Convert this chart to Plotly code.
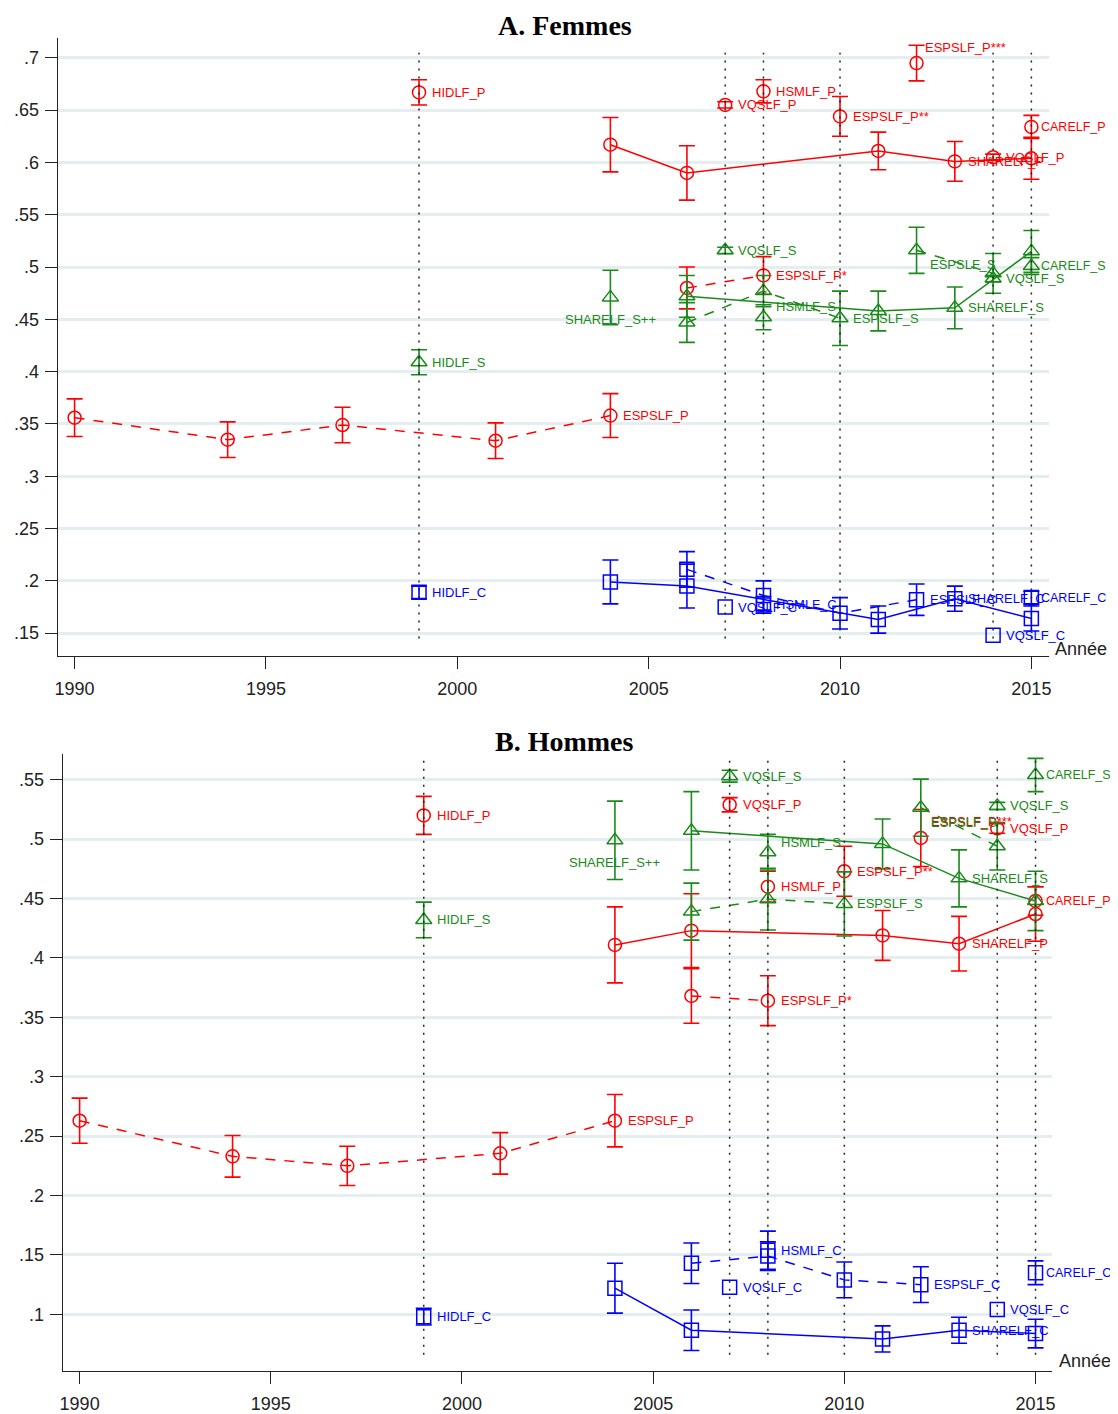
import plotly.graph_objects as go

# ---------------- DATA ----------------
DOT_YEARS = [1999, 2007, 2008, 2010, 2014, 2015]
X_TICKS = [1990, 1995, 2000, 2005, 2010, 2015]
F_Y_TICKS = [0.15, 0.2, 0.25, 0.3, 0.35, 0.4, 0.45, 0.5, 0.55, 0.6, 0.65, 0.7]
F_Y_TICKTEXT = [".15", ".2", ".25", ".3", ".35", ".4", ".45", ".5", ".55", ".6", ".65", ".7"]
H_Y_TICKS = [0.1, 0.15, 0.2, 0.25, 0.3, 0.35, 0.4, 0.45, 0.5, 0.55]
H_Y_TICKTEXT = [".1", ".15", ".2", ".25", ".3", ".35", ".4", ".45", ".5", ".55"]

ESP_X = [1990, 1994, 1997, 2001, 2004]
SHARE_X = [2004, 2006, 2011, 2013, 2015]
SHARE_S_X = [2006, 2011, 2013, 2015]
ESP1_X = [2006, 2008]
ESP1_S_X = [2006, 2008, 2010]
ESP1_C_X = [2006, 2008, 2010, 2012]
ESP2_S_X = [2012, 2014]

# --- A. Femmes ---
F_HIDLF_P = [0.667]; F_HIDLF_P_E = [0.012]
F_ESPSLF_P = [0.356, 0.335, 0.349, 0.334, 0.358]; F_ESPSLF_P_E = [0.018, 0.017, 0.017, 0.017, 0.021]
F_SHARELF_P = [0.617, 0.590, 0.611, 0.601, 0.604]; F_SHARELF_P_E = [0.026, 0.026, 0.018, 0.019, 0.020]
F_VQSLF_P07 = [0.655]; F_VQSLF_P07_E = [0.003]
F_HSMLF_P = [0.668]; F_HSMLF_P_E = [0.011]
F_ESPSLF_P1 = [0.480, 0.492]; F_ESPSLF_P1_E = [0.020, 0.018]
F_ESPSLF_P2 = [0.644]; F_ESPSLF_P2_E = [0.019]
F_ESPSLF_P3 = [0.695]; F_ESPSLF_P3_E = [0.017]
F_VQSLF_P14 = [0.605]; F_VQSLF_P14_E = [0.003]
F_CARELF_P = [0.634]; F_CARELF_P_E = [0.011]

F_HIDLF_S = [0.409]; F_HIDLF_S_E = [0.012]
F_SHARELF_SPP = [0.471]; F_SHARELF_SPP_E = [0.026]
F_SHARELF_S = [0.472, 0.458, 0.461, 0.515]; F_SHARELF_S_E = [0.020, 0.019, 0.020, 0.020]
F_VQSLF_S07 = [0.516]; F_VQSLF_S07_E = [0.003]
F_ESPSLF_S1 = [0.447, 0.477, 0.451]; F_ESPSLF_S1_E = [0.019, 0.015, 0.026]
F_HSMLF_S = [0.452]; F_HSMLF_S_E = [0.012]
F_ESPSLF_S2 = [0.516, 0.494]; F_ESPSLF_S2_E = [0.022, 0.019]
F_VQSLF_S14 = [0.489]; F_VQSLF_S14_E = [0.003]
F_CARELF_S = [0.501]; F_CARELF_S_E = [0.008]

F_HIDLF_C = [0.189]; F_HIDLF_C_E = [0.006]
F_SHARELF_C = [0.199, 0.195, 0.163, 0.183, 0.164]; F_SHARELF_C_E = [0.021, 0.021, 0.013, 0.012, 0.012]
F_ESPSLF_C1 = [0.211, 0.186, 0.169, 0.182]; F_ESPSLF_C1_E = [0.017, 0.014, 0.015, 0.015]
F_HSMLF_C = [0.177]; F_HSMLF_C_E = [0.008]
F_VQSLF_C07 = [0.175]
F_VQSLF_C14 = [0.148]
F_CARELF_C = [0.184]; F_CARELF_C_E = [0.006]

# --- B. Hommes ---
H_HIDLF_P = [0.520]; H_HIDLF_P_E = [0.016]
H_ESPSLF_P = [0.263, 0.233, 0.225, 0.2355, 0.263]; H_ESPSLF_P_E = [0.019, 0.0175, 0.0165, 0.0175, 0.022]
H_SHARELF_P = [0.411, 0.423, 0.419, 0.412, 0.437]; H_SHARELF_P_E = [0.032, 0.031, 0.021, 0.023, 0.023]
H_VQSLF_P07 = [0.529]; H_VQSLF_P07_E = [0.006]
H_HSMLF_P = [0.460]; H_HSMLF_P_E = [0.013]
H_ESPSLF_P1 = [0.368, 0.364]; H_ESPSLF_P1_E = [0.023, 0.021]
H_ESPSLF_P2 = [0.473]; H_ESPSLF_P2_E = [0.021]
H_ESPSLF_P3 = [0.501]; H_ESPSLF_P3_E = [0.024]
H_VQSLF_P14 = [0.509]; H_VQSLF_P14_E = [0.004]
H_CARELF_P = [0.448]; H_CARELF_P_E = [0.012]

H_HIDLF_S = [0.432]; H_HIDLF_S_E = [0.015]
H_SHARELF_SPP = [0.499]; H_SHARELF_SPP_E = [0.033]
H_SHARELF_S = [0.507, 0.496, 0.467, 0.448]; H_SHARELF_S_E = [0.033, 0.021, 0.024, 0.025]
H_VQSLF_S07 = [0.553]; H_VQSLF_S07_E = [0.005]
H_ESPSLF_S1 = [0.439, 0.4495, 0.4455]; H_ESPSLF_S1_E = [0.024, 0.026, 0.027]
H_HSMLF_S = [0.489]; H_HSMLF_S_E = [0.015]
H_ESPSLF_S2 = [0.5265, 0.494]; H_ESPSLF_S2_E = [0.024, 0.020]
H_VQSLF_S14 = [0.528]; H_VQSLF_S14_E = [0.003]
H_CARELF_S = [0.554]; H_CARELF_S_E = [0.014]

H_HIDLF_C = [0.098]; H_HIDLF_C_E = [0.007]
H_SHARELF_C = [0.122, 0.0866, 0.0793, 0.0866, 0.0838]; H_SHARELF_C_E = [0.021, 0.017, 0.011, 0.011, 0.012]
H_ESPSLF_C1 = [0.143, 0.149, 0.129, 0.125]; H_ESPSLF_C1_E = [0.017, 0.012, 0.015, 0.015]
H_HSMLF_C = [0.154]; H_HSMLF_C_E = [0.016]
H_VQSLF_C07 = [0.1227]
H_VQSLF_C14 = [0.104]
H_CARELF_C = [0.135]; H_CARELF_C_E = [0.010]

# ---------------- STYLE ----------------
RED = "#ff0000"
GREEN = "#1a8a1a"
BLUE = "#0000ff"
STYLE = {
    "P": dict(color=RED, symbol="circle", size=13),
    "S": dict(color=GREEN, symbol="triangle-up", size=14),
    "C": dict(color=BLUE, symbol="square", size=14),
}
DASH = "10px,9px"
LABEL_FONT = "Liberation Sans, Arial, sans-serif"
TICK_FONT = "Liberation Sans, Arial, sans-serif"
EDGE_DX = 8  # labels next to 2015 points

fig = go.Figure()
annotations = []


def add_series(panel, kind, xs, ys, errs=None, line=None, label=None,
               label_idx=0, dx=11, dy=0, anchor="left", fsize=13):
    st = STYLE[kind]
    xa, ya = ("x", "y") if panel == 1 else ("x2", "y2")
    tr = dict(
        x=xs, y=ys, xaxis=xa, yaxis=ya, showlegend=False, hoverinfo="skip",
        mode="lines+markers" if line else "markers",
        marker=dict(symbol=st["symbol"], size=st["size"], color="rgba(255,255,255,0)",
                    line=dict(color=st["color"], width=1.5)),
    )
    if line:
        tr["line"] = dict(color=st["color"], width=1.5,
                          dash=(DASH if line == "dash" else "solid"))
    if errs is not None:
        tr["error_y"] = dict(type="data", array=errs, visible=True,
                             color=st["color"], thickness=1.6, width=8)
    fig.add_trace(go.Scatter(**tr))
    if label:
        annotations.append(dict(
            x=xs[label_idx], y=ys[label_idx], xref=xa, yref=ya, text=label,
            showarrow=False, xanchor=anchor, yanchor="middle", xshift=dx, yshift=dy,
            font=dict(family=LABEL_FONT, size=fsize, color=st["color"])))


# ---- Panel A ----
add_series(1, "P", ESP_X, F_ESPSLF_P, F_ESPSLF_P_E, "dash", "ESPSLF_P", 4)
add_series(1, "P", [1999], F_HIDLF_P, F_HIDLF_P_E, None, "HIDLF_P")
add_series(1, "P", SHARE_X, F_SHARELF_P, F_SHARELF_P_E, "solid", "SHARELF_P", 3)
add_series(1, "P", [2007], F_VQSLF_P07, F_VQSLF_P07_E, None, "VQSLF_P")
add_series(1, "P", [2008], F_HSMLF_P, F_HSMLF_P_E, None, "HSMLF_P")
add_series(1, "P", ESP1_X, F_ESPSLF_P1, F_ESPSLF_P1_E, "dash", "ESPSLF_P*", 1)
add_series(1, "P", [2010], F_ESPSLF_P2, F_ESPSLF_P2_E, None, "ESPSLF_P**")
add_series(1, "P", [2012], F_ESPSLF_P3, F_ESPSLF_P3_E, None, "ESPSLF_P***", 0, 6, 16)
add_series(1, "P", [2014], F_VQSLF_P14, F_VQSLF_P14_E, None, "VQSLF_P")
add_series(1, "P", [2015], F_CARELF_P, F_CARELF_P_E, None, "CARELF_P", 0, EDGE_DX, 0, "left", 12.5)

add_series(1, "S", [1999], F_HIDLF_S, F_HIDLF_S_E, None, "HIDLF_S")
add_series(1, "S", [2004], F_SHARELF_SPP, F_SHARELF_SPP_E, None, "SHARELF_S++", 0, 0, -22, "center")
add_series(1, "S", SHARE_S_X, F_SHARELF_S, F_SHARELF_S_E, "solid", "SHARELF_S", 2)
add_series(1, "S", [2007], F_VQSLF_S07, F_VQSLF_S07_E, None, "VQSLF_S")
add_series(1, "S", ESP1_S_X, F_ESPSLF_S1, F_ESPSLF_S1_E, "dash", "ESPSLF_S", 2)
add_series(1, "S", [2008], F_HSMLF_S, F_HSMLF_S_E, None, "HSMLF_S", 0, 11, 11)
add_series(1, "S", ESP2_S_X, F_ESPSLF_S2, F_ESPSLF_S2_E, "dash", "ESPSLF_S", 0, 11, -14)
add_series(1, "S", [2014], F_VQSLF_S14, F_VQSLF_S14_E, None, "VQSLF_S")
add_series(1, "S", [2015], F_CARELF_S, F_CARELF_S_E, None, "CARELF_S", 0, EDGE_DX, 0, "left", 12.5)

add_series(1, "C", [1999], F_HIDLF_C, F_HIDLF_C_E, None, "HIDLF_C")
add_series(1, "C", SHARE_X, F_SHARELF_C, F_SHARELF_C_E, "solid", "SHARELF_C", 3)
add_series(1, "C", ESP1_C_X, F_ESPSLF_C1, F_ESPSLF_C1_E, "dash", "ESPSLF_C", 3)
add_series(1, "C", [2008], F_HSMLF_C, F_HSMLF_C_E, None, "HSMLF_C")
add_series(1, "C", [2007], F_VQSLF_C07, None, None, "VQSLF_C")
add_series(1, "C", [2014], F_VQSLF_C14, None, None, "VQSLF_C")
add_series(1, "C", [2015], F_CARELF_C, F_CARELF_C_E, None, "CARELF_C", 0, EDGE_DX, 0, "left", 12.5)

# ---- Panel B ----
add_series(2, "P", ESP_X, H_ESPSLF_P, H_ESPSLF_P_E, "dash", "ESPSLF_P", 4)
add_series(2, "P", [1999], H_HIDLF_P, H_HIDLF_P_E, None, "HIDLF_P")
add_series(2, "P", SHARE_X, H_SHARELF_P, H_SHARELF_P_E, "solid", "SHARELF_P", 3)
add_series(2, "P", [2007], H_VQSLF_P07, H_VQSLF_P07_E, None, "VQSLF_P")
add_series(2, "P", [2008], H_HSMLF_P, H_HSMLF_P_E, None, "HSMLF_P")
add_series(2, "P", ESP1_X, H_ESPSLF_P1, H_ESPSLF_P1_E, "dash", "ESPSLF_P*", 1)
add_series(2, "P", [2010], H_ESPSLF_P2, H_ESPSLF_P2_E, None, "ESPSLF_P**")
add_series(2, "P", [2012], H_ESPSLF_P3, H_ESPSLF_P3_E, None, "ESPSLF_P***", 0, 8, 16)
add_series(2, "P", [2014], H_VQSLF_P14, H_VQSLF_P14_E, None, "VQSLF_P")
add_series(2, "P", [2015], H_CARELF_P, H_CARELF_P_E, None, "CARELF_P", 0, EDGE_DX, 0, "left", 12.5)

add_series(2, "S", [1999], H_HIDLF_S, H_HIDLF_S_E, None, "HIDLF_S")
add_series(2, "S", [2004], H_SHARELF_SPP, H_SHARELF_SPP_E, None, "SHARELF_S++", 0, 0, -22, "center")
add_series(2, "S", SHARE_S_X, H_SHARELF_S, H_SHARELF_S_E, "solid", "SHARELF_S", 2)
add_series(2, "S", [2007], H_VQSLF_S07, H_VQSLF_S07_E, None, "VQSLF_S")
add_series(2, "S", ESP1_S_X, H_ESPSLF_S1, H_ESPSLF_S1_E, "dash", "ESPSLF_S", 2)
add_series(2, "S", [2008], H_HSMLF_S, H_HSMLF_S_E, None, "HSMLF_S", 0, 11, 10)
add_series(2, "S", ESP2_S_X, H_ESPSLF_S2, H_ESPSLF_S2_E, "dash", "ESPSLF_S", 0, 8, -15)
add_series(2, "S", [2014], H_VQSLF_S14, H_VQSLF_S14_E, None, "VQSLF_S")
add_series(2, "S", [2015], H_CARELF_S, H_CARELF_S_E, None, "CARELF_S", 0, EDGE_DX, 0, "left", 12.5)

add_series(2, "C", [1999], H_HIDLF_C, H_HIDLF_C_E, None, "HIDLF_C")
add_series(2, "C", SHARE_X, H_SHARELF_C, H_SHARELF_C_E, "solid", "SHARELF_C", 3)
add_series(2, "C", ESP1_C_X, H_ESPSLF_C1, H_ESPSLF_C1_E, "dash", "ESPSLF_C", 3)
add_series(2, "C", [2008], H_HSMLF_C, H_HSMLF_C_E, None, "HSMLF_C")
add_series(2, "C", [2007], H_VQSLF_C07, None, None, "VQSLF_C")
add_series(2, "C", [2014], H_VQSLF_C14, None, None, "VQSLF_C")
add_series(2, "C", [2015], H_CARELF_C, H_CARELF_C_E, None, "CARELF_C", 0, EDGE_DX, 0, "left", 12.5)

# ---------------- LAYOUT ----------------
OFF = 8  # page body margin
W, H = 1110, 1406


def fx(px):
    return (px - OFF) / W


def fy(py):
    return 1 - (py - OFF) / H


shapes = []
for yr in DOT_YEARS:
    shapes.append(dict(type="line", xref="x", yref="y", x0=yr, x1=yr, y0=0.145, y1=0.705,
                       line=dict(color="#222", width=1.5, dash="2px,6px"), layer="above"))
    shapes.append(dict(type="line", xref="x2", yref="y2", x0=yr, x1=yr, y0=0.066, y1=0.567,
                       line=dict(color="#222", width=1.5, dash="2px,6px"), layer="above"))

TITLE_FONT = dict(family="Liberation Serif, Times New Roman, serif", size=28, color="black")
annotations += [
    dict(text="<b>A. Femmes</b>", x=fx(565), y=fy(26), xref="paper", yref="paper",
         showarrow=False, xanchor="center", yanchor="middle", font=TITLE_FONT),
    dict(text="<b>B. Hommes</b>", x=fx(565), y=fy(744), xref="paper", yref="paper",
         showarrow=False, xanchor="center", yanchor="middle", font=TITLE_FONT),
    dict(text="Année", x=fx(1112), y=fy(651), xref="paper", yref="paper",
         showarrow=False, xanchor="right", yanchor="middle",
         font=dict(family=TICK_FONT, size=18, color="#222")),
    dict(text="Année", x=fx(1116), y=fy(1365), xref="paper", yref="paper",
         showarrow=False, xanchor="right", yanchor="middle",
         font=dict(family=TICK_FONT, size=18, color="#222")),
]

axis_common = dict(showline=True, linecolor="#222", linewidth=1.2, ticks="outside",
                   tickcolor="#222", zeroline=False,
                   tickfont=dict(family=TICK_FONT, size=18, color="#222"))
grid = dict(showgrid=True, gridcolor="#e4edef", gridwidth=2.5)

fig.update_layout(
    width=W, height=H, autosize=False,
    margin=dict(l=0, r=0, t=0, b=0),
    paper_bgcolor="white", plot_bgcolor="white",
    xaxis=dict(domain=[fx(55), fx(1052)], range=[1989.56, 2015.47], anchor="y",
               tickvals=X_TICKS, ticklen=12, ticklabelstandoff=4, showgrid=False, **axis_common),
    yaxis=dict(domain=[fy(658), fy(38)], range=[0.12803, 0.71907], anchor="x",
               tickvals=F_Y_TICKS, ticktext=F_Y_TICKTEXT, ticklen=12, ticklabelstandoff=2,
               **grid, **axis_common),
    xaxis2=dict(domain=[fx(60), fx(1055)], range=[1989.558, 2015.44], anchor="y2",
                tickvals=X_TICKS, ticklen=12, ticklabelstandoff=4, showgrid=False, **axis_common),
    yaxis2=dict(domain=[fy(1375), fy(756)], range=[0.0522, 0.5718], anchor="x2",
                tickvals=H_Y_TICKS, ticktext=H_Y_TICKTEXT, ticklen=12, ticklabelstandoff=2,
                **grid, **axis_common),
    shapes=shapes,
    annotations=annotations,
)

fig.write_html("out.html")
